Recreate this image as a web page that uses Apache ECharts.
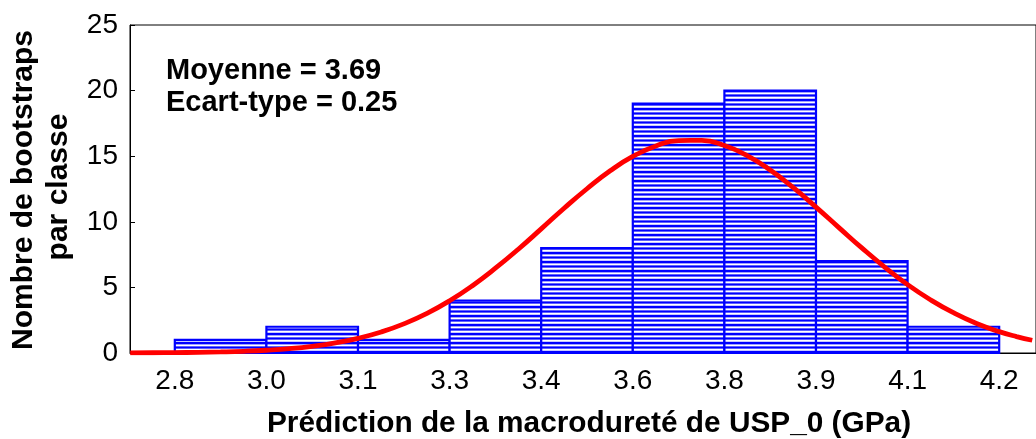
<!DOCTYPE html>
<html>
<head>
<meta charset="utf-8">
<script src="https://cdn.jsdelivr.net/npm/echarts@6/dist/echarts.min.js"></script>
<style>
html,body{margin:0;padding:0;background:#fff;}
#chart{width:1036px;height:439px;}
</style>
</head>
<body>
<div id="chart"></div>
<script>
// ---- data ----
const binEdges = [2.810, 2.968, 3.126, 3.284, 3.442, 3.600, 3.758, 3.916, 4.074, 4.232];
const counts = [1, 2, 1, 4, 8, 19, 20, 7, 2];
const tickLabels = ['2.8', '3.0', '3.1', '3.3', '3.4', '3.6', '3.8', '3.9', '4.1', '4.2'];
const yTickValues = [0, 5, 10, 15, 20, 25];
const curveX = [2.733, 2.772, 2.810, 2.850, 2.889, 2.929, 2.968, 3.008, 3.047, 3.087, 3.126, 3.166, 3.205, 3.245, 3.284, 3.324, 3.363, 3.403, 3.442, 3.482, 3.521, 3.561, 3.600, 3.640, 3.679, 3.719, 3.758, 3.798, 3.837, 3.877, 3.916, 3.956, 3.995, 4.035, 4.074, 4.114, 4.153, 4.193, 4.232, 4.262, 4.289];
const curveY = [0.01, 0.02, 0.03, 0.05, 0.08, 0.13, 0.21, 0.33, 0.51, 0.77, 1.12, 1.60, 2.22, 3.02, 3.98, 5.15, 6.46, 7.93, 9.46, 11.05, 12.52, 13.89, 14.98, 15.78, 16.19, 16.20, 15.81, 15.03, 13.95, 12.60, 11.12, 9.54, 8.01, 6.53, 5.21, 4.04, 3.07, 2.25, 1.63, 1.25, 0.97];
const statsLines = ['Moyenne = 3.69', 'Ecart-type = 0.25'];
const xTitle = 'Prédiction de la macrodureté de USP_0 (GPa)';
const yTitleLines = ['Nombre de bootstraps', 'par classe'];

// hatch pattern
const pat = document.createElement('canvas');
pat.width = 8; pat.height = 9;
(function(){
  const c = pat.getContext('2d');
  c.fillStyle = '#ffffff'; c.fillRect(0,0,8,9);
  const rows = {0:'#0000ff',1:'#0000ff',2:'#a0a0ff',4:'#6060ff',5:'#0000ff',6:'#6060ff',8:'#c8c8ff'};
  for (const r in rows){ c.fillStyle = rows[r]; c.fillRect(0, +r, 8, 1); }
})();
const hatch = {image: pat, repeat: 'repeat'};

const barData = counts.map((c, i) => [binEdges[i], binEdges[i+1], c]);
const curveData = curveX.map((x, i) => [x, curveY[i]]);

const FONT = '"Liberation Sans", Arial, sans-serif';

const chart = echarts.init(document.getElementById('chart'), null, {renderer: 'canvas'});
chart.setOption({
  animation: false,
  backgroundColor: '#ffffff',
  grid: {left: 130, top: 25, width: 910, height: 328, show: true, borderColor: '#000', borderWidth: 1, backgroundColor: 'transparent'},
  xAxis: {
    type: 'value', min: 2.7327, max: 4.2955,
    axisLine: {show: true, lineStyle: {color: '#000', width: 1}},
    axisTick: {show: true, inside: true, length: 5, customValues: binEdges, lineStyle: {color: '#000', width: 1}},
    axisLabel: {
      customValues: binEdges, margin: 14, color: '#000', fontFamily: FONT, fontSize: 28,
      formatter: function (v) { const k = binEdges.indexOf(v); return k >= 0 ? tickLabels[k] : v.toFixed(1); }
    },
    splitLine: {show: false}
  },
  yAxis: {
    type: 'value', min: 0, max: 25, interval: 5,
    axisLine: {show: true, lineStyle: {color: '#000', width: 1}},
    axisTick: {show: true, inside: true, length: 5, lineStyle: {color: '#000', width: 1}},
    axisLabel: {margin: 12, color: '#000', fontFamily: FONT, fontSize: 28},
    splitLine: {show: false}
  },
  series: [
    {
      type: 'custom',
      data: barData,
      encode: {x: [0, 1], y: 2},
      z: 2,
      renderItem: function (params, api) {
        const p0 = api.coord([api.value(0), api.value(2)]);
        const p1 = api.coord([api.value(1), 0]);
        return {
          type: 'rect',
          shape: {x: p0[0], y: p0[1], width: p1[0] - p0[0], height: p1[1] - p0[1]},
          style: {fill: hatch, stroke: '#0000ff', lineWidth: 2.2}
        };
      }
    },
    {
      type: 'line',
      data: curveData,
      smooth: true,
      showSymbol: false,
      z: 5,
      clip: true,
      lineStyle: {color: '#ff0000', width: 4.8}
    }
  ],
  graphic: [
    {type: 'text', x: 166, y: 71, style: {text: statsLines[0], font: 'bold 29px ' + FONT, fill: '#000', verticalAlign: 'middle'}},
    {type: 'text', x: 166, y: 103, style: {text: statsLines[1], font: 'bold 29px ' + FONT, fill: '#000', verticalAlign: 'middle'}},
    {type: 'text', x: 589, y: 424, style: {text: xTitle, font: 'bold 29.8px ' + FONT, fill: '#000', align: 'center', verticalAlign: 'middle'}},
    {type: 'text', x: 24, y: 190, rotation: Math.PI / 2, style: {text: yTitleLines[0], font: 'bold 30px ' + FONT, fill: '#000', align: 'center', verticalAlign: 'middle'}},
    {type: 'text', x: 59, y: 187, rotation: Math.PI / 2, style: {text: yTitleLines[1], font: 'bold 30px ' + FONT, fill: '#000', align: 'center', verticalAlign: 'middle'}}
  ]
});
</script>
</body>
</html>
